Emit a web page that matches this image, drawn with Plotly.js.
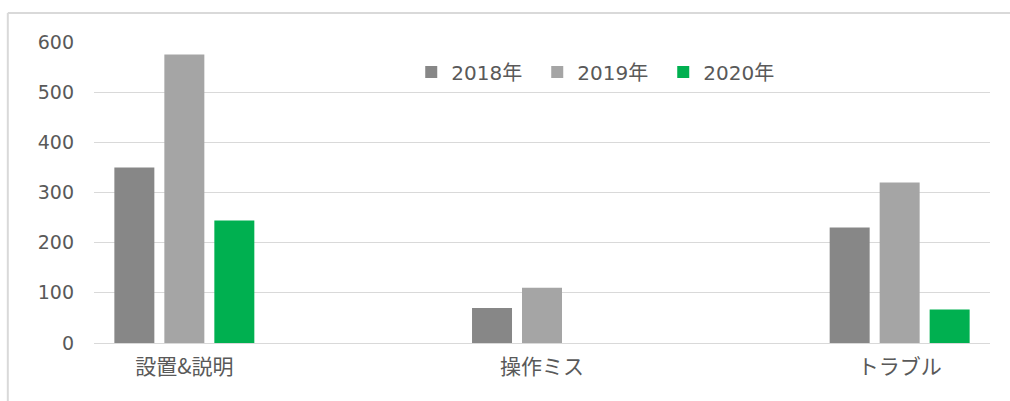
<!DOCTYPE html>
<html>
<head>
<meta charset="utf-8">
<script src="https://cdn.plot.ly/plotly-3.0.1.min.js"></script>
<style>
  html, body { margin: 0; padding: 0; background: #fff; }
  #chart { width: 1010px; height: 401px; }
</style>
</head>
<body>
<div id="chart"></div>
<script>
const categories = ['設置&説明', '操作ミス', 'トラブル'];
const seriesNames = ['2018年', '2019年', '2020年'];
const values2018 = [350, 70, 230];
const values2019 = [575, 110, 320];
const values2020 = [244, null, 67];
const seriesColors = ['#878787', '#a5a5a5', '#00b050'];

const allValues = [values2018, values2019, values2020];
const traces = allValues.map((vals, i) => ({
  type: 'bar',
  name: seriesNames[i],
  x: categories,
  y: vals,
  marker: { color: seriesColors[i] },
  hoverinfo: 'x+y+name'
}));

const textColor = '#595959';
const font = { family: 'DejaVu Sans, Noto Sans CJK JP, sans-serif', color: textColor };

const layout = {
  width: 1010,
  height: 401,
  margin: { l: 94, r: 20, t: 42, b: 58 },
  paper_bgcolor: '#ffffff',
  plot_bgcolor: '#ffffff',
  barmode: 'group',
  bargap: 0.5807,
  bargroupgap: 0.2,
  showlegend: true,
  legend: {
    orientation: 'h',
    x: 0.565, xanchor: 'center',
    y: 0.9, yanchor: 'middle',
    font: Object.assign({}, font, { size: 20 }),
    itemwidth: 30,
    entrywidth: 81,
    traceorder: 'normal',
    bgcolor: 'rgba(0,0,0,0)'
  },
  xaxis: {
    type: 'category',
    range: [-0.2526, 2.2526],
    showgrid: false,
    showline: false,
    zeroline: false,
    ticks: '',
    ticklabelstandoff: 9,
    tickfont: Object.assign({}, font, { size: 21, family: 'Noto Sans CJK JP, sans-serif' })
  },
  yaxis: {
    range: [0, 600],
    dtick: 100,
    tick0: 0,
    showgrid: true,
    gridcolor: '#d9d9d9',
    gridwidth: 1.3,
    zeroline: true,
    zerolinecolor: '#d9d9d9',
    zerolinewidth: 1.3,
    showline: false,
    ticks: '',
    ticklabelstandoff: 19,
    tickfont: Object.assign({}, font, { size: 19 })
  },
  shapes: [
    { type: 'line', xref: 'paper', yref: 'paper',
      x0: -0.0962, x1: -0.0962, y0: -0.3, y1: 1.0963,
      line: { color: '#d9d9d9', width: 2 } },
    { type: 'line', xref: 'paper', yref: 'paper',
      x0: -0.0962, x1: 1.05, y0: 1.0963, y1: 1.0963,
      line: { color: '#d9d9d9', width: 2 } }
  ]
};

Plotly.newPlot('chart', traces, layout, { displayModeBar: false, staticPlot: false });
</script>
</body>
</html>
